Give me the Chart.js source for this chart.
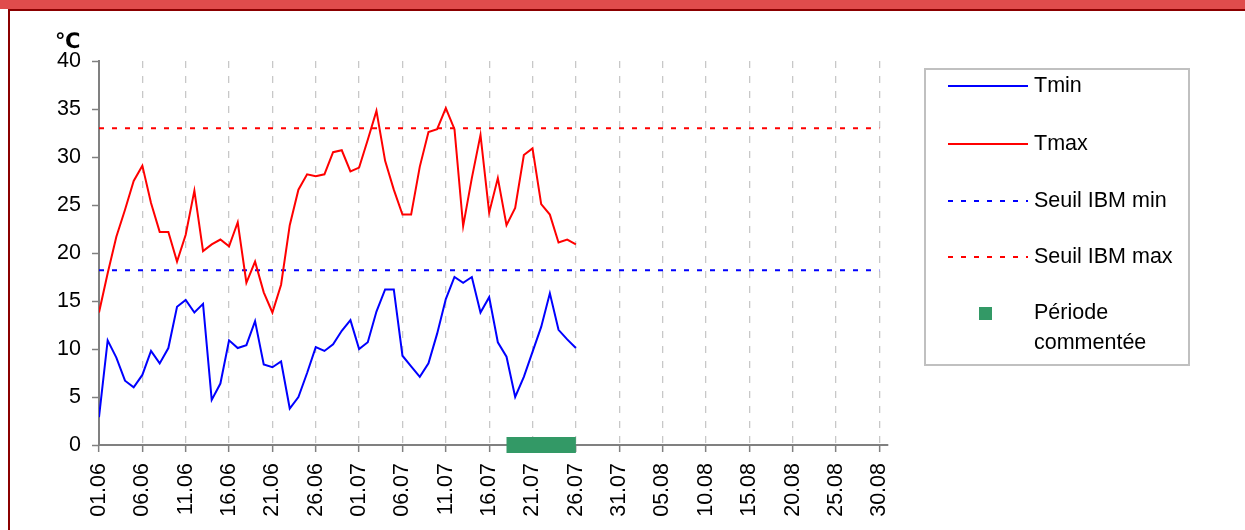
<!DOCTYPE html>
<html>
<head>
<meta charset="utf-8">
<script src="https://cdn.jsdelivr.net/npm/chart.js@4"></script>
<style>
  html, body { margin: 0; padding: 0; background: #fff; }
  body { width: 1245px; height: 530px; position: relative; overflow: hidden; }
  .bandeau { position: absolute; left: 0; top: 0; width: 1245px; height: 9px; background: #e04c4c; }
  .cadre { position: absolute; left: 8px; top: 9px; right: 0; bottom: 0;
           border-top: 2px solid #8b0000; border-left: 2px solid #8b0000; }
  canvas { position: absolute; left: 0; top: 0; }
</style>
</head>
<body>
<div class="bandeau"></div>
<div class="cadre"></div>
<canvas id="chartTemp" width="1245" height="530"></canvas>
<script>
// valeurs (jour 0 = 01.06)
const tmin = [2.9, 10.9, 9.1, 6.7, 6.0, 7.3, 9.8, 8.5, 10.1, 14.4,
              15.1, 13.8, 14.7, 4.7, 6.4, 10.9, 10.1, 10.4, 12.9, 8.4,
              8.1, 8.7, 3.8, 5.0, 7.5, 10.2, 9.8, 10.5, 11.9, 13.0,
              10.0, 10.7, 13.9, 16.2, 16.2, 9.3, 8.2, 7.1, 8.5, 11.6,
              15.2, 17.5, 16.9, 17.5, 13.8, 15.4, 10.7, 9.2, 5.0, 7.1,
              9.7, 12.3, 15.8, 12.0, 11.0, 10.1];
const tmax = [13.8, 17.9, 21.7, 24.5, 27.5, 29.1, 25.2, 22.2, 22.2, 19.1,
              21.9, 26.5, 20.2, 20.9, 21.4, 20.7, 23.2, 16.9, 19.1, 15.9,
              13.8, 16.7, 22.9, 26.6, 28.2, 28.0, 28.2, 30.5, 30.7, 28.5,
              28.9, 31.8, 34.8, 29.6, 26.6, 24.0, 24.0, 29.0, 32.6, 32.9,
              35.1, 32.9, 22.8, 27.8, 32.3, 24.2, 27.8, 22.9, 24.7, 30.2,
              30.9, 25.1, 24.0, 21.1, 21.4, 20.9];
const seuilMin = 18.2;
const seuilMax = 33;
const seuilJours = [0, 90];
const periodeJours = [47, 55];   // 18.07 -> 26.07
const tickJours = [0, 5, 10, 15, 20, 25, 30, 35, 40, 45, 50, 55, 60, 65, 70, 75, 80, 85, 90];
const tickLabels = ['01.06', '06.06', '11.06', '16.06', '21.06', '26.06', '01.07', '06.07',
                    '11.07', '16.07', '21.07', '26.07', '31.07', '05.08', '10.08', '15.08',
                    '20.08', '25.08', '30.08'];

const pts = arr => arr.map((v, i) => ({ x: i, y: v }));
const plat = (jours, v) => jours.map(j => ({ x: j, y: v }));

Chart.defaults.font.family = '"Liberation Sans", Arial, sans-serif';
Chart.defaults.font.size = 21.5;
Chart.defaults.color = '#000';

// légende + unité dessinées à la main (mise en page Excel)
const legendeIBM = {
  id: 'legendeIBM',
  afterDraw(chart) {
    const ctx = chart.ctx;
    ctx.save();
    ctx.font = 'bold 21px "DejaVu Sans", sans-serif';
    ctx.fillStyle = '#000';
    ctx.textBaseline = 'alphabetic';
    ctx.fillText('\u2103', 55, 48);

    ctx.strokeStyle = '#c0c0c0';
    ctx.lineWidth = 2;
    ctx.strokeRect(925, 69, 264, 296);

    const rows = [86, 144, 201, 257, 313];
    ctx.font = '21.5px "Liberation Sans", Arial, sans-serif';
    ctx.textBaseline = 'middle';
    chart.data.datasets.forEach((ds, i) => {
      const y = rows[i];
      if (ds.carre) {
        ctx.fillStyle = ds.borderColor;
        ctx.fillRect(979, y - 6, 13, 13);
      } else {
        ctx.strokeStyle = ds.borderColor;
        ctx.lineWidth = 2;
        ctx.setLineDash(ds.borderDash || []);
        ctx.beginPath();
        ctx.moveTo(948, y);
        ctx.lineTo(1028, y);
        ctx.stroke();
        ctx.setLineDash([]);
      }
      ctx.fillStyle = '#000';
      // retour à la ligne si trop long
      const mots = ds.label.split(' ');
      let ligne = '', yy = y;
      mots.forEach(m => {
        const essai = ligne ? ligne + ' ' + m : m;
        if (ligne && ctx.measureText(essai).width > 150) {
          ctx.fillText(ligne, 1034, yy);
          ligne = m;
          yy += 30;
        } else {
          ligne = essai;
        }
      });
      ctx.fillText(ligne, 1034, yy);
    });
    ctx.restore();
  }
};

new Chart(document.getElementById('chartTemp'), {
  type: 'line',
  data: {
    datasets: [
      { label: 'Tmin', data: pts(tmin), borderColor: '#0000ff', borderWidth: 2 },
      { label: 'Tmax', data: pts(tmax), borderColor: '#ff0000', borderWidth: 2 },
      { label: 'Seuil IBM min', data: plat(seuilJours, seuilMin), borderColor: '#0000ff',
        borderWidth: 2, borderDash: [5, 8] },
      { label: 'Seuil IBM max', data: plat(seuilJours, seuilMax), borderColor: '#ff0000',
        borderWidth: 2, borderDash: [5, 8] },
      { label: 'Période commentée', data: plat(periodeJours, 0), borderColor: '#339966',
        borderWidth: 16, borderCapStyle: 'butt', clip: false, carre: true }
    ]
  },
  options: {
    responsive: false,
    animation: false,
    parsing: false,
    elements: { point: { radius: 0 }, line: { tension: 0, fill: false } },
    layout: { padding: { left: 0, top: 61, right: 357, bottom: 0 } },
    plugins: { legend: { display: false }, tooltip: { enabled: false } },
    scales: {
      x: {
        type: 'linear', min: 0, max: 91,
        afterBuildTicks(s) { s.ticks = tickJours.map(v => ({ value: v })); },
        afterFit(s) { s.height = 85; },
        ticks: {
          autoSkip: false, minRotation: 90, maxRotation: 90, padding: 11,
          callback: (v, i) => tickLabels[i]
        },
        grid: {
          color: c => (c.tick && c.tick.value === 0) ? 'rgba(0,0,0,0)' : '#c8c8c8',
          lineWidth: 1.3, tickLength: 7, tickColor: '#808080', tickWidth: 1.5
        },
        border: { color: '#808080', width: 2, dash: [7, 8] }
      },
      y: {
        min: 0, max: 40,
        afterFit(s) { s.width = 99; },
        ticks: { stepSize: 5, padding: 11 },
        grid: { drawOnChartArea: false, tickLength: 7, tickColor: '#808080', tickWidth: 1.5 },
        border: { color: '#808080', width: 2 }
      }
    }
  },
  plugins: [legendeIBM]
});
</script>
</body>
</html>
